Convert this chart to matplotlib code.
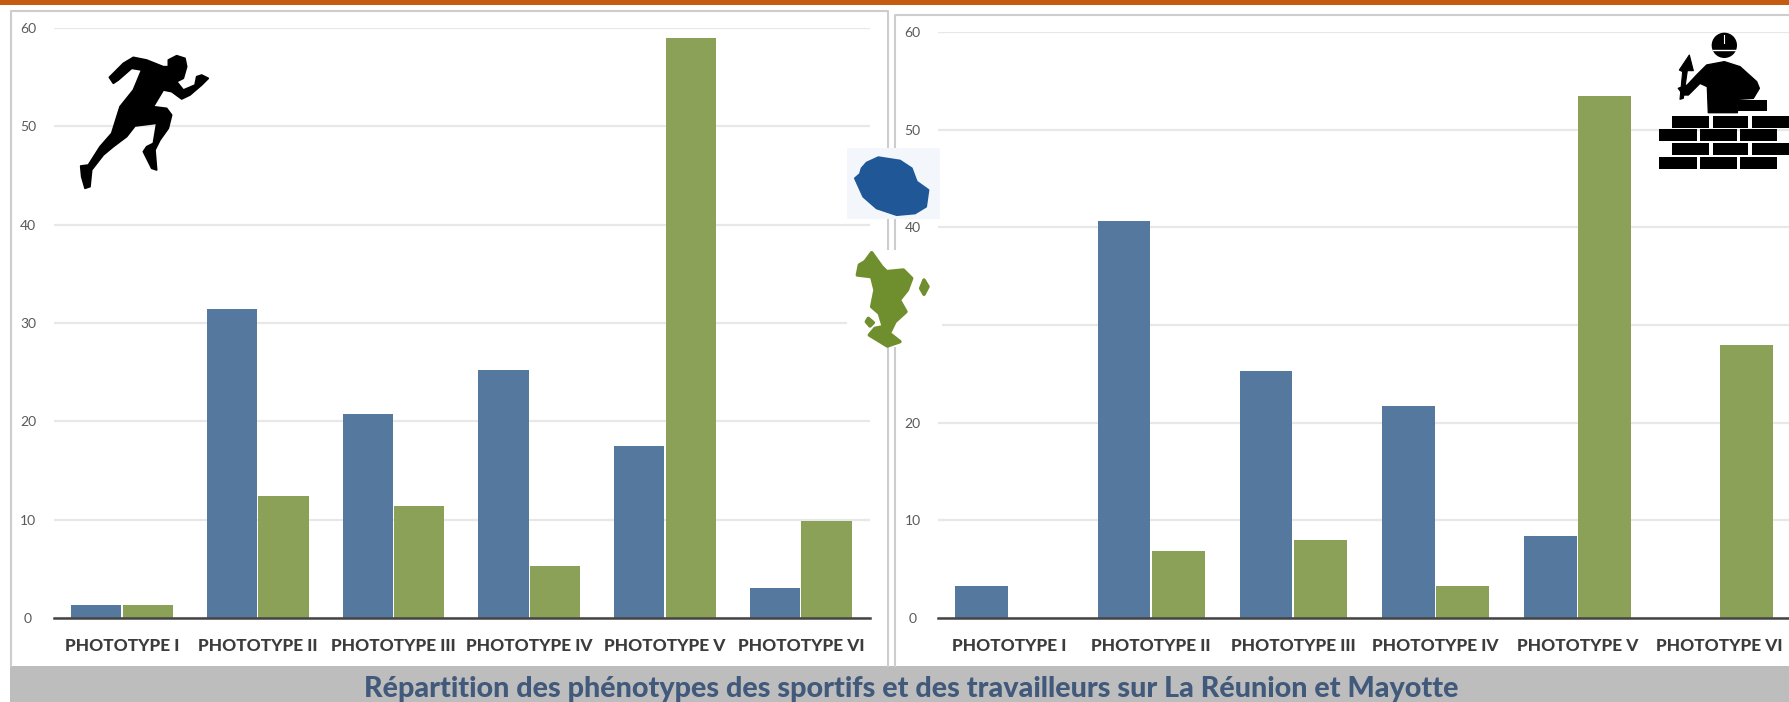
import numpy as np
import matplotlib
matplotlib.use("Agg")
import matplotlib.pyplot as plt
from matplotlib.patches import Polygon, Rectangle, Circle

W, H = 1789, 702

phototypes = ["PHOTOTYPE I", "PHOTOTYPE II", "PHOTOTYPE III", "PHOTOTYPE IV", "PHOTOTYPE V", "PHOTOTYPE VI"]
sport_reunion = [1.3, 31.4, 20.7, 25.2, 17.5, 3.1]
sport_mayotte = [1.3, 12.4, 11.4, 5.3, 59.0, 9.9]
work_reunion = [3.3, 40.6, 25.3, 21.7, 8.4, 0]
work_mayotte = [0, 6.9, 8.0, 3.3, 53.4, 28.0]
y_ticks = [0, 10, 20, 30, 40, 50, 60]
title = "Répartition des phénotypes des sportifs et des travailleurs sur La Réunion et Mayotte"

BLUE = "#55789f"
GREEN = "#8aa157"
FRAME = "#cdcdcd"
GRID = "#e8e8e8"

plt.rcParams["font.family"] = ["Lato", "DejaVu Sans"]

# icon outlines in zoomed pixels
runner = [(505, 180), (530, 167), (555, 175), (560, 200), (550, 235), (530, 245), (550, 270), (585, 255),
          (590, 230), (605, 225), (625, 235), (605, 255), (570, 285), (545, 297), (515, 275), (490, 270),
          (460, 320), (500, 325), (515, 345), (505, 385), (480, 420), (465, 450), (470, 510), (455, 505),
          (430, 455), (440, 440), (460, 430), (470, 370), (405, 378), (380, 410), (340, 440), (310, 465),
          (275, 510), (270, 560), (255, 565), (245, 530), (242, 498), (265, 495), (300, 440), (335, 400),
          (360, 320), (400, 270), (425, 210), (395, 205), (355, 240), (340, 250), (328, 232), (370, 190),
          (400, 172), (440, 180), (490, 200), (505, 200)]
builder_body = [(325, 338), (322, 260), (300, 250), (265, 285), (250, 285), (235, 265), (262, 255), (290, 225),
                (320, 195), (373, 185), (420, 200), (470, 245), (478, 265), (460, 295), (415, 298), (412, 338)]
trowel = [(268, 165), (280, 212), (262, 212), (250, 295), (240, 298), (248, 215), (238, 210)]
brick_rows = [(347, 383, [(216, 327), (338, 444), (456, 567)]),
              (388, 424, [(178, 290), (300, 410), (420, 530)]),
              (430, 465, [(216, 327), (338, 444), (456, 567)]),
              (470, 508, [(178, 290), (300, 410), (420, 530)])]
reunion = [(165, 235), (180, 222), (185, 205), (200, 188), (235, 172), (300, 182), (335, 205), (350, 245),
           (385, 270), (378, 320), (345, 340), (290, 345), (230, 325), (190, 290)]
mayotte = [(215, 458), (245, 500), (260, 515), (310, 510), (335, 535), (322, 570), (298, 600), (318, 635),
           (285, 665), (268, 700), (300, 725), (262, 738), (208, 705), (225, 685), (250, 680), (238, 640),
           (215, 620), (225, 570), (215, 530), (172, 525), (178, 495), (195, 485)]
islet_east = [(372, 540), (384, 560), (372, 583), (362, 565)]
islet_west = [(205, 655), (220, 668), (210, 678), (199, 665)]


def make_axes(fig, x0, x1, y_top, y_zero):
    return fig.add_axes([x0 / W, 1 - y_zero / H, (x1 - x0) / W, (y_zero - y_top) / H])


def paint_panel(ax, blue, green, xlim, width, labelx):
    x = np.arange(len(phototypes))
    ax.bar(x - width / 2 - 0.005, blue, width, color=BLUE, zorder=3)
    ax.bar(x + width / 2 + 0.005, green, width, color=GREEN, zorder=3)
    ax.set_xlim(*xlim)
    ax.set_ylim(0, 60)
    ax.set_yticks(y_ticks)
    ax.set_xticks(x, phototypes, fontsize=12.4, fontweight="black", color="#3c3c3c")
    ax.tick_params(axis="both", length=0)
    ax.tick_params(axis="x", pad=14.5)
    ax.tick_params(axis="y", labelsize=10, labelcolor="#5a5a5a", pad=0)
    for lab in ax.get_yticklabels():
        lab.set_horizontalalignment("center")
        lab.set_x(labelx)
    ax.grid(axis="y", color=GRID, lw=1.6, zorder=0)
    ax.set_axisbelow(True)
    for s in ["top", "left", "right"]:
        ax.spines[s].set_visible(False)
    ax.spines["bottom"].set_color("#444444")
    ax.spines["bottom"].set_linewidth(1.8)
    ax.spines["bottom"].set_zorder(4)
    ax.patch.set_alpha(0)


def zoomed(points, x0, y0, scale=3):
    return [(x0 + px / scale, y0 + py / scale) for px, py in points]


fig = plt.figure(figsize=(W / 100, H / 100), dpi=100)

# page furniture sits below the charts, in pixel coordinates
bg = fig.add_axes([0, 0, 1, 1], zorder=0)
bg.set_xlim(0, W)
bg.set_ylim(H, 0)
bg.axis("off")
bg.add_patch(Rectangle((0, 0), W, 4.5, color="#c55a11", lw=0))
bg.add_patch(Rectangle((10, 666), W - 10, 36, color="#bdbdbd", lw=0))
bg.plot([11, 11, 888, 888], [666, 11, 11, 666], color=FRAME, lw=1.5)
bg.plot([895, 895, W], [666, 15, 15], color=FRAME, lw=1.5)
bg.text(911, 688.5, title, ha="center", va="center", fontsize=20.7, fontweight="black", color="#41597a")

ax1 = make_axes(fig, 54, 870, 28, 618)
ax1.set_zorder(1)
paint_panel(ax1, sport_reunion, sport_mayotte, (-0.5, 5.51), 0.37, -0.032)

ax2 = make_axes(fig, 938, W, 32, 618)
ax2.set_zorder(1)
paint_panel(ax2, work_reunion, work_mayotte, (-0.5, 5.49), 0.372, -0.03)

# icons go on top of everything
top = fig.add_axes([0, 0, 1, 1], zorder=2)
top.set_xlim(0, W)
top.set_ylim(H, 0)
top.axis("off")
top.patch.set_alpha(0)

top.add_patch(Polygon(zoomed(runner, 0, 0), fc="black", ec="black", lw=1.2, joinstyle="round"))

top.add_patch(Rectangle((847, 250), 95, 97, color="white", lw=0))
top.add_patch(Rectangle((847, 148), 93, 71, color="#f3f7fb", lw=0))
top.add_patch(Polygon(zoomed(reunion, 800, 100), fc="#1f5797", ec="#1f5797", lw=1.5, joinstyle="round"))
for shape in (mayotte, islet_east, islet_west):
    top.add_patch(Polygon(zoomed(shape, 800, 100), fc="#6f8f2e", ec="#6f8f2e", lw=2.5, joinstyle="round"))

top.add_patch(Polygon(zoomed(builder_body, 1600, 0), fc="black", ec="black", lw=1, joinstyle="round"))
top.add_patch(Polygon(zoomed(trowel, 1600, 0), fc="black", ec="black", lw=0.8, joinstyle="round"))
top.add_patch(Circle((1600 + 373 / 3, 136 / 3), 38 / 3, color="black", lw=0))
top.plot([1600 + 338 / 3, 1600 + 408 / 3], [150 / 3, 150 / 3], color="white", lw=1)
top.plot([1600 + 373 / 3, 1600 + 373 / 3], [106 / 3, 130 / 3], color="white", lw=0.8)
top.add_patch(Rectangle((1600 + 415 / 3, 100), 85 / 3, 32 / 3, color="black", lw=0))
for y0, y1, spans in brick_rows:
    for x0, x1 in spans:
        top.add_patch(Rectangle((1600 + x0 / 3, y0 / 3), (x1 - x0) / 3, (y1 - y0) / 3, color="black", lw=0))

fig.savefig("out.png", dpi=100)
